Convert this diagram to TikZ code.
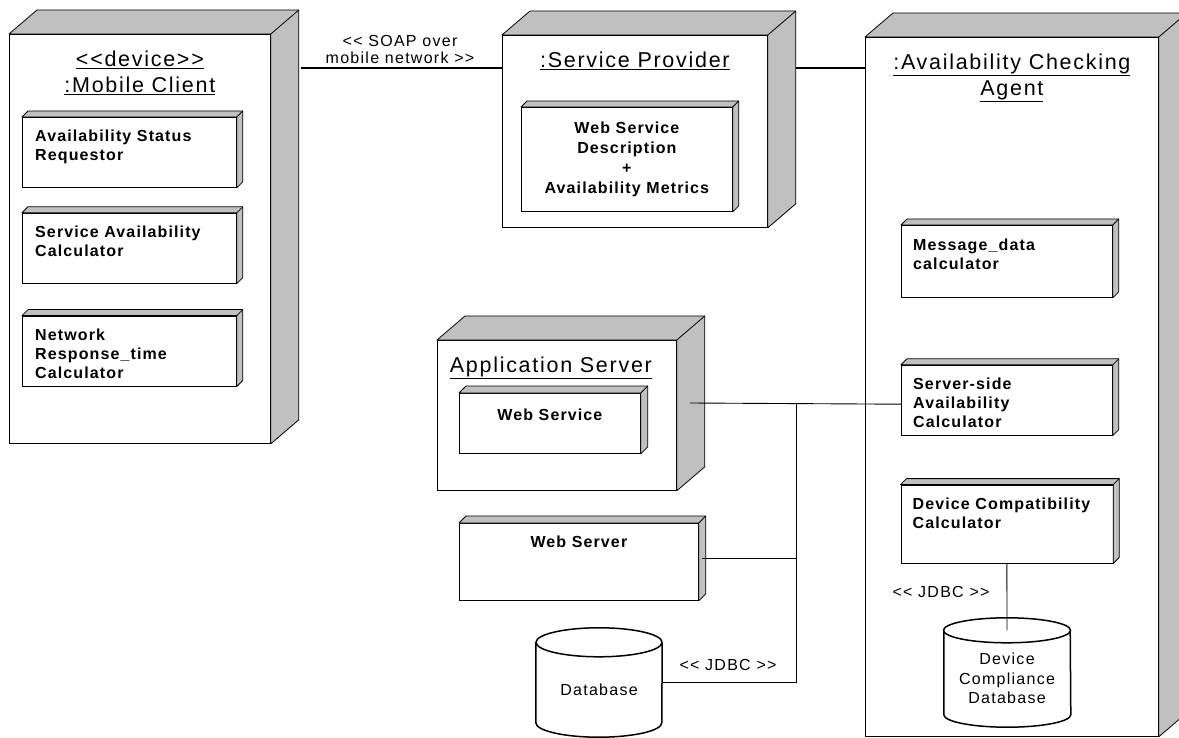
\documentclass[tikz,border=0pt]{standalone}
\usepackage{fontspec}
\usepackage{tikz}
\usetikzlibrary{positioning, calc}
\newfontfamily\umlfont{Liberation Sans}[LetterSpace=8]
\newfontfamily\umlboldfont{Liberation Sans Bold}[LetterSpace=7]
\definecolor{sidegray}{RGB}{192,192,192}

% top and side faces of a 3D box
\newcommand{\boxfaces}[3]{%
  \filldraw[face] (#1.north west) -- ++(#2,-#3) -| ($(#1.south east)+(#2,-#3)$)
    -- (#1.south east) -- (#1.north east) -- cycle;
  \draw[face] (#1.north east) -- ++(#2,-#3);}
% database drum round a node (node spans from top ellipse centre to bottom)
\newcommand{\drum}[3]{%
  \draw[dbline, fill=white] (#1.north west) -- ($(#1.south west)+(0,-#3)$)
    arc[start angle=180, end angle=360, x radius=#2pt, y radius=#3pt] -- (#1.north east);
  \draw[dbline, fill=white] (#1.north) ellipse[x radius=#2pt, y radius=#3pt];}

\begin{document}
\begin{tikzpicture}[x=1pt, y=-1pt, every node/.style={inner sep=0pt}]
  % Styles
  \tikzstyle{unode} = [rectangle, draw, fill=white, line width=0.8pt, anchor=north west]
  \tikzstyle{comp} = [rectangle, draw, fill=white, line width=0.8pt, minimum width=214pt, minimum height=70pt, anchor=north west]
  \tikzstyle{face} = [draw, fill=sidegray, line width=0.8pt, line join=round]
  \tikzstyle{title} = [anchor=north, align=center, font=\umlfont\fontsize{21.5}{26}\selectfont]
  \tikzstyle{comptext} = [anchor=north west, align=left, font=\umlboldfont\fontsize{16}{19}\selectfont]
  \tikzstyle{linktext} = [align=center, font=\umlfont\fontsize{16}{17}\selectfont]
  \tikzstyle{dbnode} = [rectangle, minimum width=126pt]
  \tikzstyle{dbtext} = [align=center, font=\umlfont\fontsize{16}{19.5}\selectfont]
  \tikzstyle{dbline} = [line width=1.5pt]
  \tikzstyle{soap} = [line width=1.6pt]
  \tikzstyle{link} = [line width=0.9pt]

  \useasboundingbox (0,0) rectangle (1179,738);
  \clip (0,0) rectangle (1179,738);

  % Mobile client
  \node[unode, minimum width=261pt, minimum height=409pt] (mobile) at (9,34) {};
  \boxfaces{mobile}{28}{24}
  \node[title] (mobiletitle) at ($(mobile.north)+(0,17)$) {\underline{<{}<device>{}>}\\\underline{:Mobile Client}};
  \node[comp] (req) at (22,117) {};
  \node[comp, below=25pt of req] (sacalc) {};
  \node[comp, below=32pt of sacalc] (nrcalc) {};
  \foreach \c in {req,sacalc,nrcalc} {\boxfaces{\c}{6}{6}}
  \node[comptext] (reqtext) at ($(req.north west)+(13,13)$) {Availability Status\\Requestor};
  \node[comptext] (sacalctext) at ($(sacalc.north west)+(13,13)$) {Service Availability\\Calculator};
  \node[comptext] (nrcalctext) at ($(nrcalc.north west)+(13,13)$) {Network\\Response\_time\\Calculator};

  % Service provider
  \node[unode, minimum width=265pt, minimum height=192pt] (sp) at (502,35) {};
  \boxfaces{sp}{28}{24}
  \node[title] (sptitle) at ($(sp.north)+(0,17)$) {\underline{:Service Provider}};
  \node[comp, minimum width=211pt, minimum height=104pt] (wsdesc) at (521,107) {};
  \boxfaces{wsdesc}{6}{6}
  \node[comptext, anchor=north, align=center, font=\umlboldfont\fontsize{16}{20}\selectfont] (wsdesctext) at ($(wsdesc.north)+(0,15)$) {Web Service\\Description\\+\\Availability Metrics};

  % Availability checking agent
  \node[unode, minimum width=293pt, minimum height=699pt] (agent) at (865,37) {};
  \boxfaces{agent}{28}{24}
  \node[title] (agenttitle) at ($(agent.north)+(0,17)$) {\underline{:Availability Checking}\\\underline{Agent}};
  \node[comp, minimum width=211pt, minimum height=72pt] (msgcalc) at (901,225) {};
  \node[comp, minimum width=211pt, below=67pt of msgcalc] (srvcalc) {};
  \node[comp, minimum width=212pt, minimum height=78pt, below=49pt of srvcalc] (devcalc) {};
  \foreach \c in {msgcalc,srvcalc,devcalc} {\boxfaces{\c}{6}{6}}
  \node[comptext] (msgcalctext) at ($(msgcalc.north west)+(12,14)$) {Message\_data\\calculator};
  \node[comptext] (srvcalctext) at ($(srvcalc.north west)+(12,13)$) {Server-side\\Availability\\Calculator};
  \node[comptext] (devcalctext) at ($(devcalc.north west)+(12,13)$) {Device Compatibility\\Calculator};
  \node[dbnode, minimum height=96.5pt] (dcdb) at (1007,678.75) {};
  \drum{dcdb}{63.5}{12.5}
  \node[dbtext] (dcdbtext) at (dcdb) {Device\\Compliance\\Database};

  % Application server, web server, database
  \node[unode, minimum width=239pt, minimum height=150pt] (appsrv) at (437,340) {};
  \boxfaces{appsrv}{28}{24}
  \node[title] (appsrvtitle) at ($(appsrv.north)+(-6,17)$) {\underline{Application Server}};
  \node[comp, minimum width=181pt, minimum height=60pt] (websvc) at (459,393) {};
  \node[comp, minimum width=239pt, minimum height=77pt] (websrv) at (459,523) {};
  \foreach \c in {websvc,websrv} {\boxfaces{\c}{7}{7}}
  \node[comptext, anchor=north] (websvctext) at ($(websvc.north)+(0,16)$) {Web Service};
  \node[comptext, anchor=north] (websrvtext) at ($(websrv.north)+(0,13)$) {Web Server};
  \node[dbnode, minimum height=94.5pt] (db) at (599,689.75) {};
  \drum{db}{63}{14.5}
  \node[dbtext] (dbtext) at (db) {Database};

  % Connections
  \draw[soap] ($(mobile.north east)+(30,34)$) -- ($(sp.north west)+(0,33)$);
  \node[linktext, anchor=south] (soaptext) at (400,64) {<{}< SOAP over\\mobile network >{}>};
  \draw[soap] ($(sp.north east)+(28,33)$) -- ($(agent.north west)+(0,31)$);
  \coordinate (bus) at (796,403);
  \draw[link] ($(appsrv.north east)+(13,63)$) -- ($(srvcalc.west)+(0,4)$);
  \draw[link] ($(websrv.east)+(3,-3)$) coordinate (wsend) -- (wsend -| bus);
  \draw[link] (bus) -- ($(bus |- db.east)+(0,-7)$) coordinate (dbend) -- (dbend -| db.east);
  \node[linktext, anchor=base] (jdbc1) at (728,670) {<{}< JDBC >{}>};
  \draw[link] (devcalc.south) -- (dcdb.north);
  \node[linktext, anchor=base] (jdbc2) at (941,597) {<{}< JDBC >{}>};
\end{tikzpicture}
\end{document}
